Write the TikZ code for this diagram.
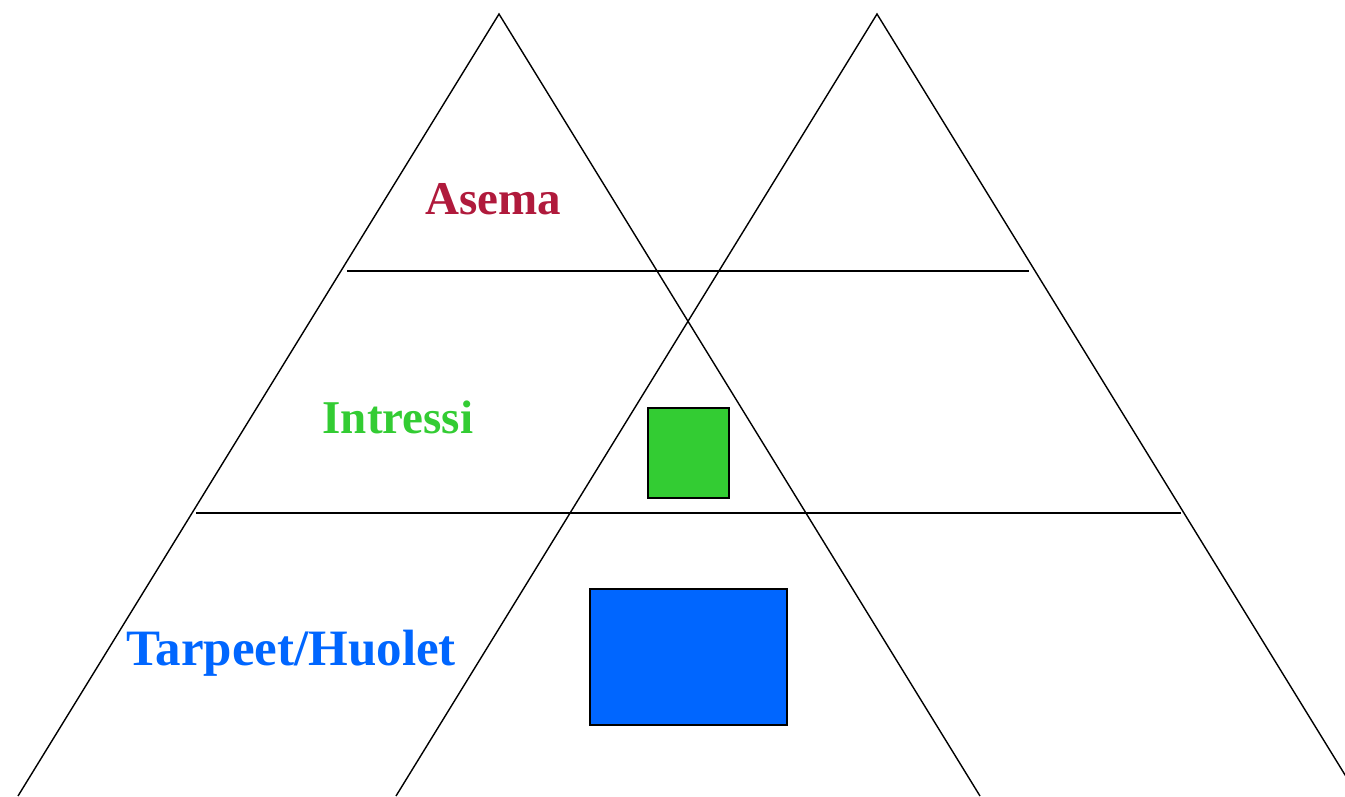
\documentclass[tikz,border=0pt]{standalone}
\usepackage{fontspec}
\setmainfont{Liberation Serif}
\definecolor{asemared}{HTML}{B01A3C}
\definecolor{intgreen}{HTML}{33CC33}
\definecolor{tarblue}{HTML}{0066FF}
\begin{document}
\begin{tikzpicture}[x=1pt,y=-1pt,
  edge/.style={draw=black,line width=1.4pt},
  lbl/.style={font=\fontsize{47}{50}\selectfont\bfseries,inner sep=0pt,anchor=center},
  biglbl/.style={font=\fontsize{51}{54}\selectfont\bfseries,inner sep=0pt,anchor=center}]
\useasboundingbox (0,0) rectangle (1345,796);
\clip (0,0) rectangle (1345,796);
% triangles
\coordinate (LA) at (499,14);
\coordinate (LL) at (18,796);
\coordinate (LR) at (980,796);
\coordinate (RA) at (877,14);
\coordinate (RL) at (396,796);
\coordinate (RR) at (1358,796);
\draw[edge] (LL) -- (LA) -- (LR);
\draw[edge] (RL) -- (RA) -- (RR);
% horizontal dividers
\coordinate (H1a) at (347,271);
\coordinate (H1b) at (1029,271);
\coordinate (H2a) at (196,513);
\coordinate (H2b) at (1181,513);
\draw[edge] (H1a) -- (H1b);
\draw[edge] (H2a) -- (H2b);
% boxes
\node[draw=black,line width=1.2pt,fill=intgreen,inner sep=0pt,minimum width=81pt,minimum height=90pt] (gbox) at (688.5,453) {};
\node[draw=black,line width=1.2pt,fill=tarblue,inner sep=0pt,minimum width=197pt,minimum height=136pt] (bbox) at (688.5,657) {};
% labels
\node[lbl,text=asemared] (asema) at (493,199) {Asema};
\node[lbl,text=intgreen] (intressi) at (398,417) {Intressi};
\node[biglbl,text=tarblue] (tarpeet) at (291,653) {Tarpeet/Huolet};
\end{tikzpicture}
\end{document}
